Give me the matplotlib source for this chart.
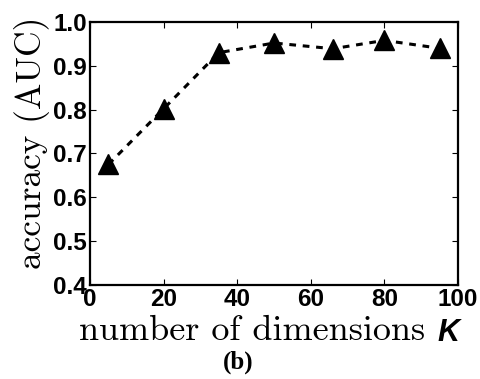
import matplotlib
matplotlib.use("Agg")
import matplotlib.pyplot as plt
from matplotlib import font_manager

dims = [5, 20, 35, 50, 66, 80, 95]
auc = [0.675, 0.802, 0.930, 0.952, 0.939, 0.958, 0.940]
xticks = [0, 20, 40, 60, 80, 100]
yticks = [0.4, 0.5, 0.6, 0.7, 0.8, 0.9, 1.0]


def find_font(filename, fallback_family, weight='bold', style='normal'):
    # pick the exact file so "Narrow" variants are not chosen
    for path in font_manager.findSystemFonts():
        if path.endswith(filename):
            return font_manager.FontProperties(fname=path)
    return font_manager.FontProperties(family=fallback_family, weight=weight,
                                       style=style)


sans_bold = find_font('LiberationSans-Bold.ttf', 'DejaVu Sans')
sans_bi = find_font('LiberationSans-BoldItalic.ttf', 'DejaVu Sans',
                    style='italic')
serif_bold = find_font('LiberationSerif-Bold.ttf', 'DejaVu Serif')


def main():
    fig = plt.figure(figsize=(4.8, 3.79), dpi=100)
    ax = fig.add_axes([0.1875, 0.248, 0.7667, 0.694])

    ax.plot(dims, auc, linestyle='--', dashes=(2.2, 2.2), color='black',
            linewidth=2.2, marker='^', markersize=15, markerfacecolor='black',
            markeredgecolor='black', clip_on=False)

    ax.set_xlim(0, 100)
    ax.set_ylim(0.4, 1.0)
    ax.set_xticks(xticks)
    ax.set_yticks(yticks)
    ax.set_xticklabels([str(t) for t in xticks])
    ax.set_yticklabels(['%.1f' % t for t in yticks])
    ax.tick_params(direction='in', length=4, width=0.8, top=True, right=True,
                   pad=2)
    for lab in ax.get_xticklabels() + ax.get_yticklabels():
        lab.set_fontproperties(sans_bold)
        lab.set_fontsize(17.5)
    for sp in ax.spines.values():
        sp.set_linewidth(1.6)

    ax.set_ylabel('accuracy (AUC)', fontfamily='cmr10', fontsize=25.5,
                  labelpad=1)
    ax.yaxis.set_label_coords(-0.11, 0.54)
    ax.set_xlabel('number of dimensions', fontfamily='cmr10', fontsize=26,
                  labelpad=0)
    ax.xaxis.set_label_coords(0.44, -0.115)
    ax.text(0.975, -0.125, 'K', transform=ax.transAxes, fontproperties=sans_bi,
            fontsize=22, ha='center', va='top')
    fig.text(0.497, 0.045, '(b)', fontproperties=serif_bold, fontsize=18,
             ha='center', va='center')

    fig.savefig('out.png', dpi=100)


if __name__ == "__main__":
    main()
